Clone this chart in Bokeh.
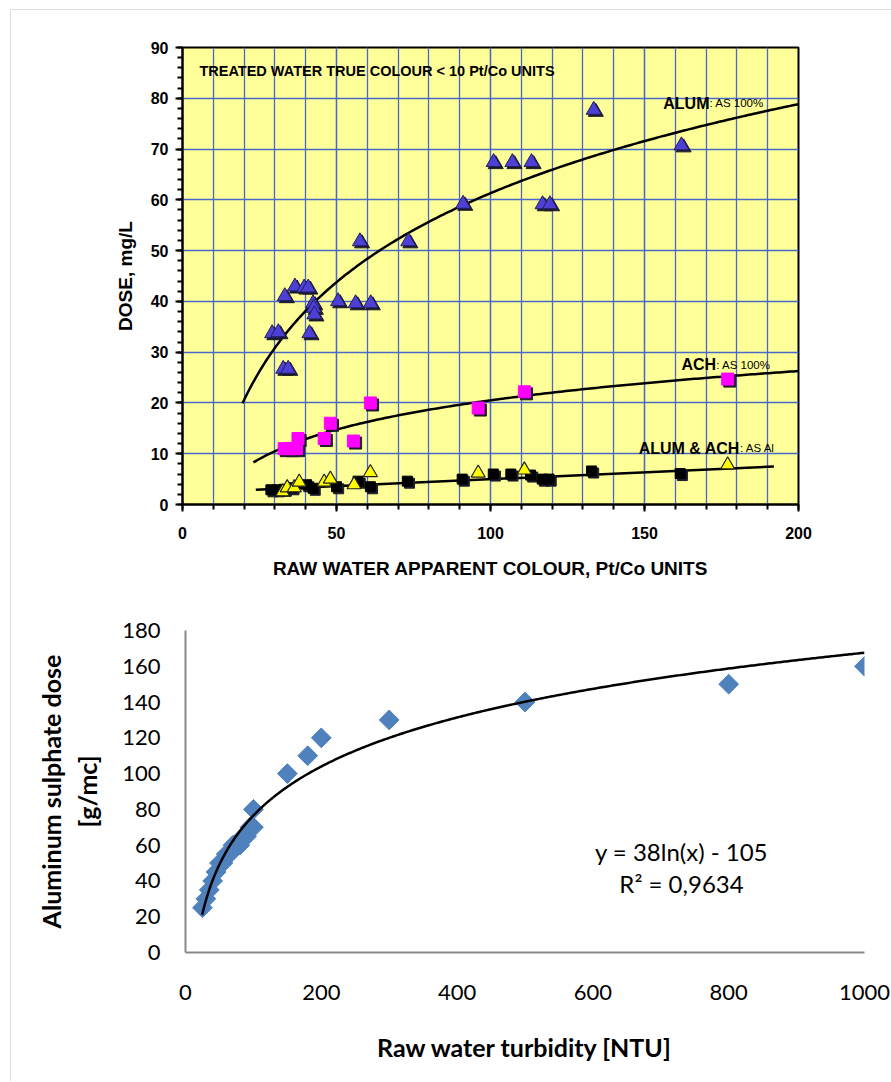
import numpy as np
from bokeh.plotting import figure
from bokeh.models import Label, LinearAxis, FixedTicker, SingleIntervalTicker, Range1d
from bokeh.layouts import column
from bokeh.transform import dodge
from bokeh.embed import file_html
from bokeh.resources import INLINE

# ---------------- top chart data ----------------
alum_x = [29.1, 31.1, 32.7, 33.2, 34.3, 36.5, 39.5, 40.8, 41.2, 42.4, 42.6, 42.8, 50.5,
          56.2, 57.6, 61.1, 73.3, 91.1, 101.0, 107.1, 113.3, 116.9, 119.3, 133.5, 162.0]
alum_y = [33.7, 33.9, 26.7, 41.0, 26.7, 42.9, 42.7, 42.7, 33.7, 39.6, 38.7, 37.4, 40.0,
          39.6, 51.8, 39.6, 51.8, 59.2, 67.4, 67.4, 67.4, 59.1, 59.1, 77.7, 70.7]
ach_x = [33.0, 35.0, 37.0, 37.5, 46.0, 48.0, 55.5, 61.0, 96.0, 111.0, 177.0]
ach_y = [11.0, 11.0, 11.0, 13.0, 13.0, 16.0, 12.5, 20.0, 19.0, 22.2, 24.7]
alum_al_x = [28.7, 30.8, 33.0, 35.5, 40.3, 42.4, 50.0, 57.0, 61.0, 73.0, 90.8, 100.9,
             106.6, 113.0, 116.8, 119.0, 132.8, 161.6]
alum_al_y = [2.9, 2.9, 3.0, 3.3, 3.9, 3.2, 3.5, 4.6, 3.5, 4.6, 5.0, 6.0, 6.0, 5.8, 5.0,
             5.0, 6.6, 6.1]
ach_al_x = [32.5, 34.0, 36.3, 37.9, 46.0, 48.0, 55.7, 61.0, 96.0, 111.0, 177.0]
ach_al_y = [2.5, 3.3, 3.3, 4.4, 4.4, 5.0, 3.9, 6.3, 6.2, 6.8, 7.8]

# trend lines
alum_trend = dict(a=25.3, b=-55.2, x0=19.5, x1=200.0)      # y = a ln x + b
ach_trend = dict(a=8.32, b=-17.8, x0=23.0, x1=200.0)       # y = a ln x + b
al_trend = dict(m=0.0273, c=2.25, x0=23.8, x1=192.0)       # y = m x + c

# ---------------- bottom chart data ----------------
turb = [25, 30, 35, 40, 45, 50, 55, 60, 65, 70, 75, 80, 85, 90, 95, 100, 100,
        150, 180, 200, 300, 500, 800, 1000]
dose = [25, 30, 35, 40, 45, 50, 50, 55, 55, 60, 60, 60, 65, 65, 70, 70, 80,
        100, 110, 120, 130, 140, 150, 160]
fit_a, fit_b = 39.5, -105.3
fit_x0, fit_x1 = 24.5, 1000.0
eq_text = "y = 38ln(x) - 105"
r2_text = "R² = 0,9634"

FT = "Liberation Sans"
FB = "Lato"

# ================= top figure =================
p1 = figure(width=881, height=591, output_backend="svg", toolbar_location=None,
            x_range=Range1d(0, 200), y_range=Range1d(0, 90),
            min_border_left=171, min_border_right=94, min_border_top=37, min_border_bottom=97)
p1.frame_align = False
p1.background_fill_color = "#FFFF99"
p1.border_fill_color = "white"
p1.outline_line_color = "black"
p1.outline_line_width = 2

p1.xaxis.ticker = SingleIntervalTicker(interval=50, num_minor_ticks=5)
p1.yaxis.ticker = SingleIntervalTicker(interval=10, num_minor_ticks=5)
for ax in (p1.xaxis[0], p1.yaxis[0]):
    ax.axis_line_color = "black"
    ax.axis_line_width = 2
    ax.major_tick_line_color = "black"
    ax.major_tick_line_width = 2
    ax.minor_tick_line_color = "black"
    ax.minor_tick_line_width = 2
    ax.major_tick_out = 7
    ax.major_tick_in = 0
    ax.minor_tick_out = 5
    ax.minor_tick_in = 0
    ax.major_label_text_font = FT
    ax.major_label_text_font_style = "bold"
    ax.major_label_text_font_size = "16px"
    ax.major_label_text_color = "black"
    ax.axis_label_text_font = FT
    ax.axis_label_text_font_style = "bold"
    ax.axis_label_text_font_size = "19px"
    ax.axis_label_text_color = "black"
p1.xaxis.axis_label = "RAW WATER APPARENT COLOUR, Pt/Co UNITS"
p1.yaxis.axis_label = "DOSE, mg/L"
p1.xaxis.major_label_standoff = 15
p1.yaxis.major_label_standoff = 7
p1.xaxis.axis_label_standoff = 16
p1.yaxis.axis_label_standoff = 12

grid_col = "#4a68c8"
p1.xgrid.grid_line_color = grid_col
p1.xgrid.grid_line_width = 1.3
p1.xgrid.minor_grid_line_color = grid_col
p1.xgrid.minor_grid_line_width = 1.3
p1.ygrid.grid_line_color = grid_col
p1.ygrid.grid_line_width = 1.3

# trend lines
xa = np.linspace(alum_trend["x0"], alum_trend["x1"], 200)
p1.line(xa, alum_trend["a"] * np.log(xa) + alum_trend["b"], line_color="black", line_width=2.5)
xb = np.linspace(ach_trend["x0"], ach_trend["x1"], 200)
p1.line(xb, ach_trend["a"] * np.log(xb) + ach_trend["b"], line_color="black", line_width=2.5)
xc = np.array([al_trend["x0"], al_trend["x1"]])
p1.line(xc, al_trend["m"] * xc + al_trend["c"], line_color="black", line_width=2.5)

def shadowed(p, xs, ys, marker, size, fill, outline):
    src = dict(x=xs, y=ys)
    p.scatter(x=dodge("x", 0.7), y=dodge("y", -0.4), source=src, marker=marker, size=size,
              fill_color="#1a1a2a", line_color="#1a1a2a")
    p.scatter(x="x", y="y", source=src, marker=marker, size=size,
              fill_color=fill, line_color=outline, line_width=1)

shadowed(p1, alum_x, alum_y, "triangle", 15, "#4e3fd6", "#20205a")
shadowed(p1, ach_x, ach_y, "square", 12, "#ff00ff", "#ff00ff")
shadowed(p1, alum_al_x, alum_al_y, "square", 10, "#000000", "#000000")
p1.scatter(ach_al_x, ach_al_y, marker="triangle", size=14, fill_color="#ffff00",
           line_color="#202020", line_width=1.2)

def lab(p, x, y, text, size, bold=False, font=FT, align="left", base="alphabetic"):
    p.add_layout(Label(x=x, y=y, text=text, text_font=font, text_font_size=size,
                       text_font_style="bold" if bold else "normal", text_color="black",
                       text_align=align, text_baseline=base))

lab(p1, 5.5, 85.3, "TREATED WATER TRUE COLOUR < 10 Pt/Co UNITS", "14.5px", bold=True)
lab(p1, 156.1, 79.0, "ALUM", "16px", bold=True)
lab(p1, 171.1, 79.0, ": AS 100%", "11.5px")
lab(p1, 162.0, 27.5, "ACH", "16px", bold=True)
lab(p1, 173.3, 27.5, ":  AS 100%", "11.5px")
lab(p1, 148.1, 11.1, "ALUM & ACH", "16px", bold=True)
lab(p1, 181.0, 11.1, ": AS Al", "11.5px")

# ================= bottom figure =================
p2 = figure(width=881, height=480, output_backend="svg", toolbar_location=None,
            x_range=Range1d(0, 1000), y_range=Range1d(0, 180),
            min_border_left=174, min_border_right=28, min_border_top=29, min_border_bottom=129)
p2.frame_align = False
p2.outline_line_color = None
p2.background_fill_color = "white"
p2.border_fill_color = "white"
p2.grid.visible = False
p2.xaxis.ticker = FixedTicker(ticks=[0, 200, 400, 600, 800, 1000])
p2.yaxis.ticker = FixedTicker(ticks=list(range(0, 181, 20)))
for ax in (p2.xaxis[0], p2.yaxis[0]):
    ax.axis_line_color = "#888888"
    ax.axis_line_width = 2
    ax.major_tick_line_color = None
    ax.minor_tick_line_color = None
    ax.major_tick_out = 0
    ax.major_tick_in = 0
    ax.major_label_text_font = FB
    ax.major_label_text_font_size = "22px"
    ax.major_label_text_color = "black"
    ax.axis_label_text_font = FB
    ax.axis_label_text_font_style = "bold"
    ax.axis_label_text_font_size = "25px"
    ax.axis_label_text_color = "black"
p2.xaxis.major_label_standoff = 32
p2.yaxis.major_label_standoff = 25
p2.xaxis.axis_label = "Raw water turbidity [NTU]"
p2.xaxis.axis_label_standoff = 29
p2.yaxis.axis_label = "[g/mc]"
p2.yaxis.axis_label_standoff = 17

ax2 = LinearAxis(ticker=FixedTicker(ticks=[]), axis_line_color=None,
                 major_tick_line_color=None, minor_tick_line_color=None,
                 major_tick_out=0, major_tick_in=0, minor_tick_out=0, minor_tick_in=0,
                 major_label_standoff=0, axis_label="Aluminum sulphate dose",
                 axis_label_standoff=4, axis_label_text_font=FB,
                 axis_label_text_font_style="bold", axis_label_text_font_size="25px",
                 axis_label_text_color="black")
p2.add_layout(ax2, "left")

xf = np.linspace(fit_x0, fit_x1, 400)
p2.scatter(turb, dose, marker="square", angle=np.pi / 4, size=14,
           fill_color="#4f81bd", line_color="#4f81bd")
p2.line(xf, fit_a * np.log(xf) + fit_b, line_color="black", line_width=2.5)

lab(p2, 730.5, 56.5, eq_text, "24px", font=FB, align="center", base="middle")
lab(p2, 730.5, 38.6, r2_text, "24px", font=FB, align="center", base="middle")

layout = column(p1, p2, margin=(9, 0, 0, 10),
                styles={"border-left": "1px solid #dedede", "border-top": "1px solid #dedede"})

open("out.html", "w").write(file_html(layout, INLINE))
